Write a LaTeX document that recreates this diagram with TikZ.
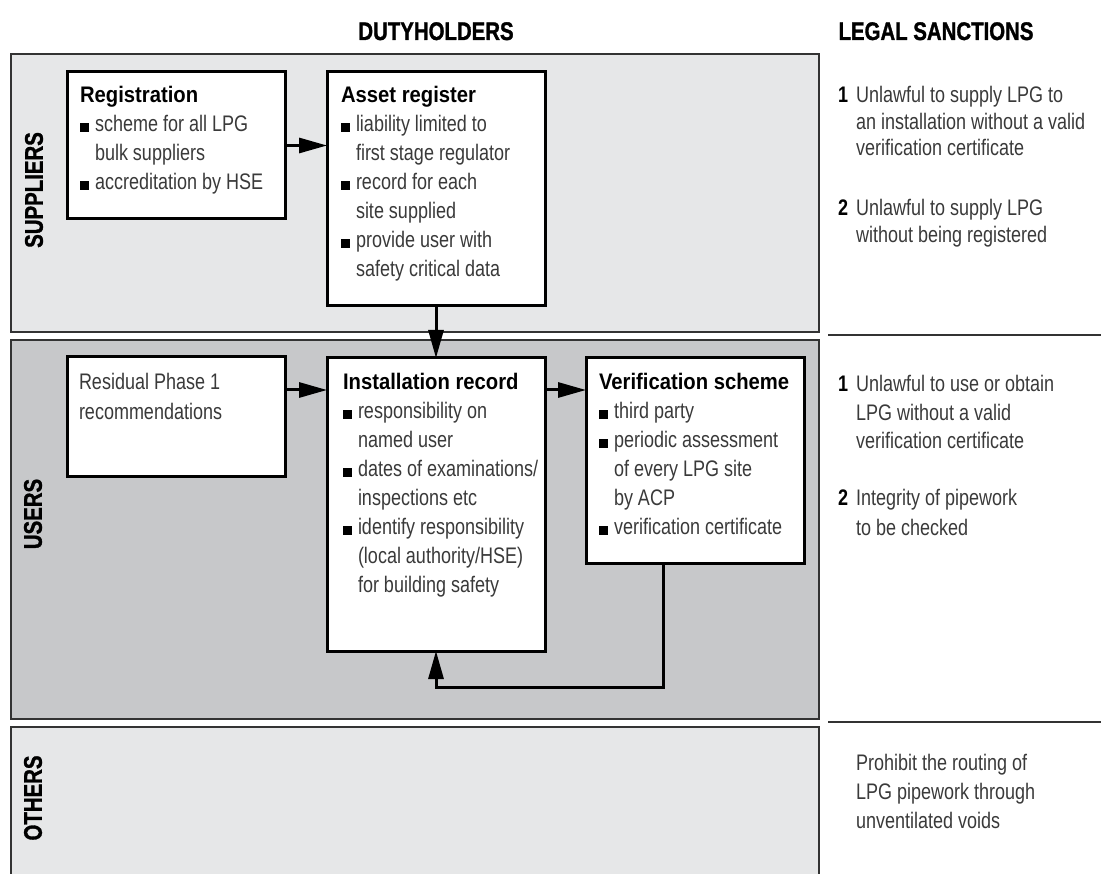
\documentclass[tikz,border=0pt]{standalone}
\usepackage{fontspec}
\setmainfont{Liberation Sans}
\newfontfamily\bodyf{Liberation Sans}[FakeStretch=0.8]
\newfontfamily\ttlf{Liberation Sans}[FakeStretch=0.9]
\newfontfamily\headf{Liberation Sans}[FakeStretch=0.8,FakeBold=1.2]
\usetikzlibrary{arrows.meta,calc}
\definecolor{pale}{HTML}{E6E7E8}
\definecolor{mid}{HTML}{C7C8CA}
\definecolor{edge}{HTML}{333333}
\definecolor{ink}{HTML}{3A3A3A}
\newcommand{\bulx}{\makebox[15pt][l]{\color{black}\rule{8.5pt}{8.5pt}}}
\newcommand{\indx}{\hspace*{15pt}}
\newcommand{\ttlx}[1]{{\ttlf\bfseries\color{black}#1}}
\newcommand{\numx}[1]{\makebox[18pt][l]{\bfseries\color{black}#1}}
\newcommand{\indn}{\hspace*{18pt}}
\newcommand{\mystack}[2][29pt]{\vtop{\baselineskip=#1\relax\lineskiplimit=-100pt #2}}
\begin{document}
\begin{tikzpicture}[x=1pt,y=-1pt,
  panel/.style={draw=edge, line width=1.6pt, anchor=north west, inner sep=0pt, outer sep=0pt},
  box/.style={draw=black, line width=3pt, fill=white, anchor=north west, inner sep=0pt, outer sep=0pt},
  txt/.style={anchor=base west, inner sep=0pt, outer sep=0pt, text=ink, font=\bodyf\fontsize{22.5}{29}\selectfont},
  head/.style={anchor=base, inner sep=0pt, text=black, font=\headf\bfseries\fontsize{25.5}{30}\selectfont},
  side/.style={rotate=90, inner sep=0pt, text=black, font=\headf\bfseries\fontsize{25.5}{30}\selectfont},
  arr/.style={draw=black, line width=3pt, -{Triangle[length=28pt,width=15pt]}},
  sep/.style={draw=edge, line width=1.6pt}]
\useasboundingbox (0,0) rectangle (1101,874);

% headers
\node[head] (hd) at (436,40) {DUTYHOLDERS};
\node[head] (hl) at (936,40) {LEGAL SANCTIONS};

% panels
\node[panel, fill=pale, minimum width=808pt, minimum height=278pt] (sup) at (11,54) {};
\node[panel, fill=mid, minimum width=808pt, minimum height=379pt] (usr) at (11,340) {};
\fill[pale] (11,727) rectangle (819,874);
\draw[sep] (11,874) |- (819,727) -- (819,874);

\node[side] (lsup) at (34,190) {SUPPLIERS};
\node[side] (lusr) at (33,514) {USERS};
\node[side] (loth) at (33,798) {OTHERS};

% boxes
\node[box, minimum width=218pt, minimum height=147pt] (reg) at (67,72) {};
\node[box, minimum width=218pt, minimum height=234pt] (asset) at (327,72) {};
\node[box, minimum width=218pt, minimum height=120pt] (res) at (67,357) {};
\node[box, minimum width=218pt, minimum height=293pt] (inst) at (327,358) {};
\node[box, minimum width=218pt, minimum height=205pt] (verif) at (586,358) {};

% box texts
\node[txt] (treg) at (80,103) {\mystack{%
  \hbox{\ttlx{Registration}}
  \hbox{\bulx scheme for all LPG}
  \hbox{\indx bulk suppliers}
  \hbox{\bulx accreditation by HSE}}};
\node[txt] (tasset) at (341,103) {\mystack{%
  \hbox{\ttlx{Asset register}}
  \hbox{\bulx liability limited to}
  \hbox{\indx first stage regulator}
  \hbox{\bulx record for each}
  \hbox{\indx site supplied}
  \hbox{\bulx provide user with}
  \hbox{\indx safety critical data}}};
\node[txt] (tres) at (79,390) {\mystack[30pt]{%
  \hbox{Residual Phase 1}
  \hbox{recommendations}}};
\node[txt] (tinst) at (343,390) {\mystack{%
  \hbox{\ttlx{Installation record}}
  \hbox{\bulx responsibility on}
  \hbox{\indx named user}
  \hbox{\bulx dates of examinations/}
  \hbox{\indx inspections etc}
  \hbox{\bulx identify responsibility}
  \hbox{\indx (local authority/HSE)}
  \hbox{\indx for building safety}}};
\node[txt] (tverif) at (599,390) {\mystack{%
  \hbox{\ttlx{Verification scheme}}
  \hbox{\bulx third party}
  \hbox{\bulx periodic assessment}
  \hbox{\indx of every LPG site}
  \hbox{\indx by ACP}
  \hbox{\bulx verification certificate}}};

% connectors
\draw[arr] (reg.east) -- (reg.east -| asset.west);
\draw[arr] (asset.south) -- (inst.north);
\coordinate (ra) at ($(res.north east)+(0,33)$);
\draw[arr] (ra) -- (ra -| inst.west);
\coordinate (ia) at ($(inst.north east)+(0,32)$);
\draw[arr] (ia) -- (ia -| verif.west);
\coordinate (fa) at ($(verif.south west)+(77,0)$);
\coordinate (fb) at ($(inst.south)+(0,36)$);
\draw[arr] (fa) |- (fb) -- (inst.south);

% legal sanctions
\draw[sep] (828,335) -- (1101,335);
\draw[sep] (828,722) -- (1101,722);
\node[txt] (s1) at (838,103) {\mystack[26.5pt]{%
  \hbox{\numx{1}Unlawful to supply LPG to}
  \hbox{\indn an installation without a valid}
  \hbox{\indn verification certificate}}};
\node[txt] (s2) at (838,216) {\mystack[27pt]{%
  \hbox{\numx{2}Unlawful to supply LPG}
  \hbox{\indn without being registered}}};
\node[txt] (u1) at (838,392) {\mystack[28.5pt]{%
  \hbox{\numx{1}Unlawful to use or obtain}
  \hbox{\indn LPG without a valid}
  \hbox{\indn verification certificate}}};
\node[txt] (u2) at (838,506) {\mystack[29pt]{%
  \hbox{\numx{2}Integrity of pipework}
  \hbox{\indn to be checked}}};
\node[txt] (o1) at (856,770) {\mystack[29pt]{%
  \hbox{Prohibit the routing of}
  \hbox{LPG pipework through}
  \hbox{unventilated voids}}};
\end{tikzpicture}
\end{document}
